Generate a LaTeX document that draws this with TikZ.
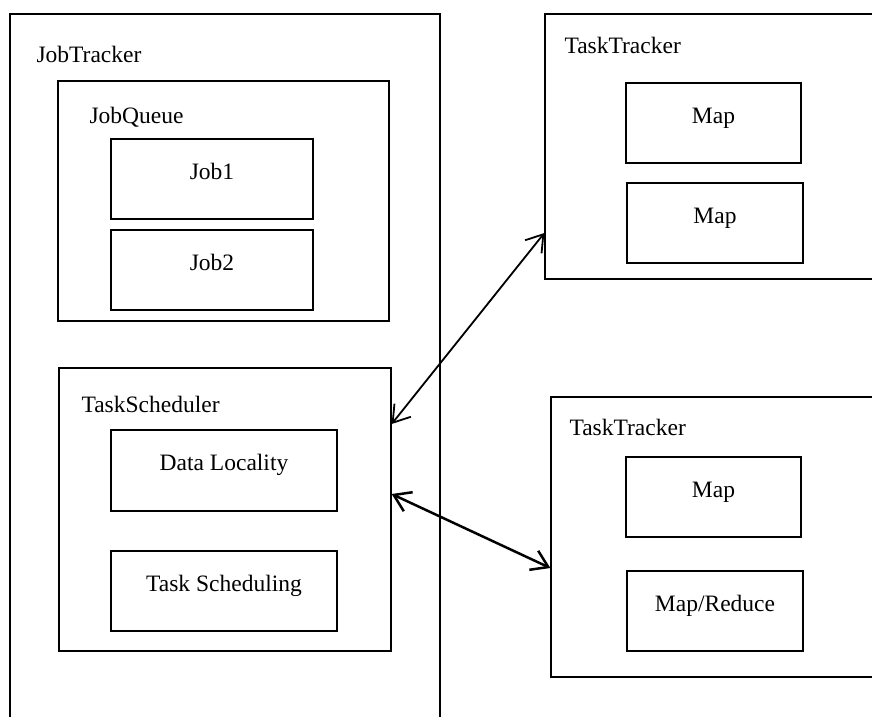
\documentclass[tikz,border=0pt]{standalone}
\usepackage{fontspec}
\setmainfont{Liberation Serif}
\usetikzlibrary{arrows.meta}

\begin{document}
\begin{tikzpicture}[x=1pt,y=-1pt,font=\fontsize{23.5}{28}\selectfont,
    outbox/.style={draw, line width=1.3pt, inner sep=0pt},
    inbox/.style={draw, line width=1.3pt, inner sep=0pt, text height=16pt, text depth=16pt},
    title/.style={anchor=base west, inner sep=0pt},
    link/.style={{Straight Barb[length=16pt,width=21pt]}-{Straight Barb[length=16pt,width=21pt]}}]
        \useasboundingbox (0,0) rectangle (872,716);
        \clip (0,0) rectangle (872,716);
        \node[outbox, minimum width=430pt, minimum height=726pt] (jt) at (225,377) {};
        \node[title] (jtt) at ([xshift=27pt,yshift=-49pt]jt.north west) {JobTracker};
        \node[outbox, minimum width=331pt, minimum height=240pt] (jq) at (223.5,201) {};
        \node[title] (jqt) at ([xshift=32pt,yshift=-43pt]jq.north west) {JobQueue};
        \node[inbox, minimum width=202pt, minimum height=80pt] (job1) at (212,179) {Job1};
        \node[inbox, minimum width=202pt, minimum height=80pt] (job2) at (212,270) {Job2};
        \node[outbox, minimum width=332pt, minimum height=283pt] (sched) at (225,509.5) {};
        \node[title] (schedt) at ([xshift=23pt,yshift=-45pt]sched.north west) {TaskScheduler};
        \node[inbox, minimum width=226pt, minimum height=81pt] (loc) at (224,470.5) {Data Locality};
        \node[inbox, minimum width=226pt, minimum height=80pt] (tsch) at (224,591) {Task Scheduling};
        \node[outbox, minimum width=355pt, minimum height=265pt] (tt1) at (722.5,146.5) {};
        \node[title] (tt1t) at ([xshift=20pt,yshift=-40pt]tt1.north west) {TaskTracker};
        \node[inbox, minimum width=175pt, minimum height=80pt] (map1) at (713.5,123) {Map};
        \node[inbox, minimum width=176pt, minimum height=80pt] (map2) at (715,223) {Map};
        \node[outbox, minimum width=349pt, minimum height=280pt] (tt2) at (725.5,537) {};
        \node[title] (tt2t) at ([xshift=19pt,yshift=-39pt]tt2.north west) {TaskTracker};
        \node[inbox, minimum width=175pt, minimum height=80pt] (map3) at (713.5,497) {Map};
        \node[inbox, minimum width=176pt, minimum height=80pt] (mapred) at (715,611) {Map/Reduce};
        \draw[link, line width=1.8pt] ([yshift=85.5pt]sched.east) -- ([yshift=-86.5pt]tt1.west);
        \draw[link, line width=2.5pt] ([yshift=15.5pt]sched.east) -- ([yshift=-31pt]tt2.west);
    \end{tikzpicture}
\end{document}
